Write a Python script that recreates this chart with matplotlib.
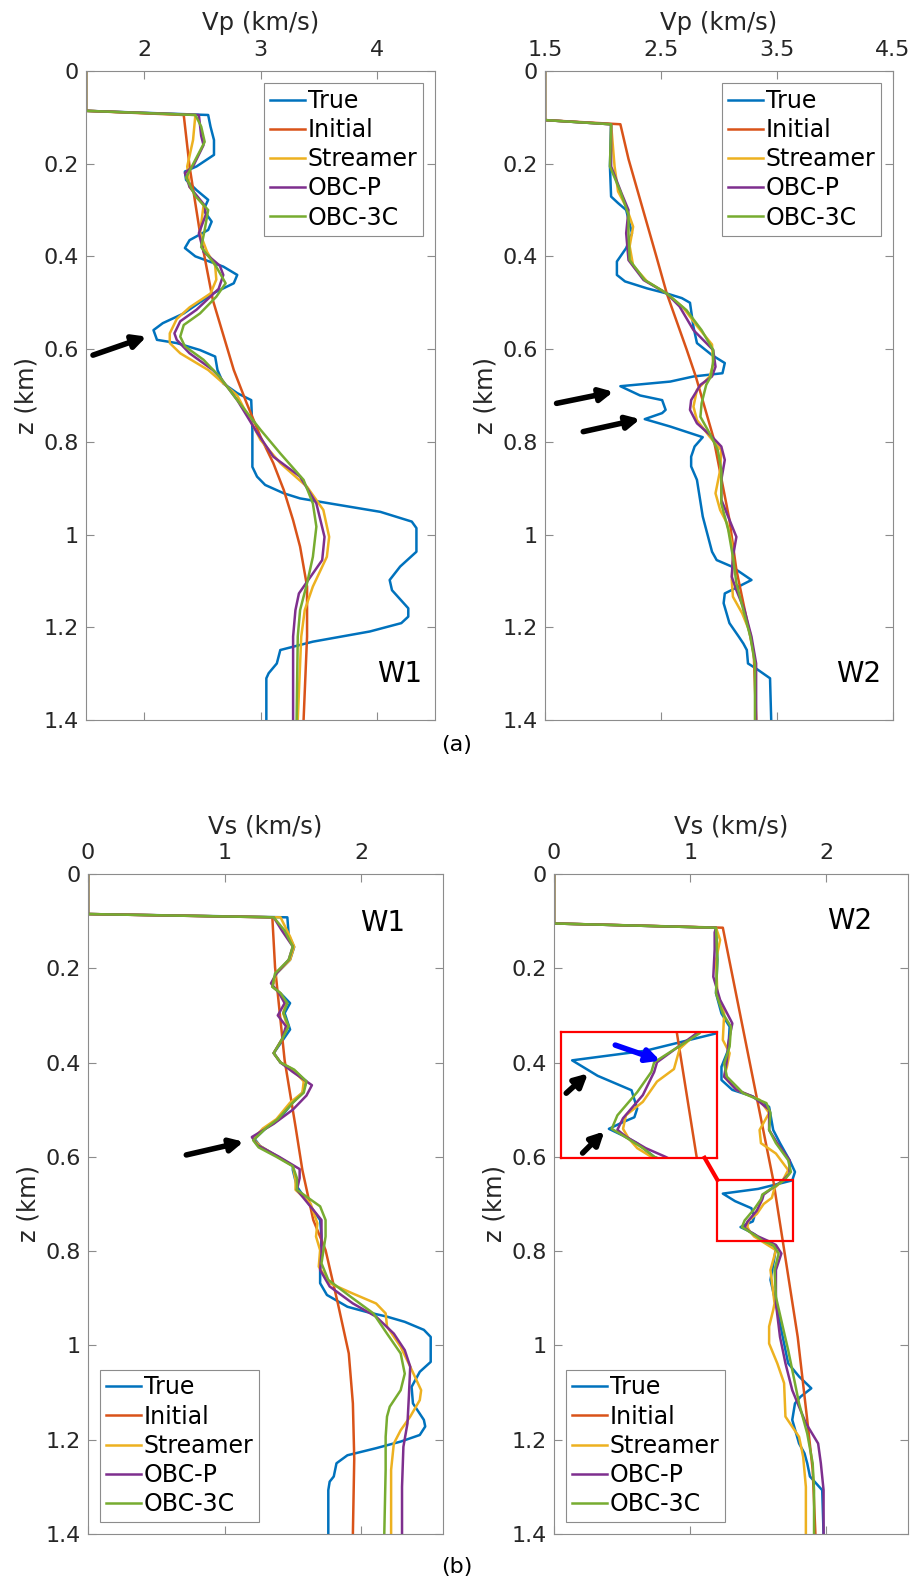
import numpy as np
import matplotlib
matplotlib.use('Agg')
import matplotlib.pyplot as plt
from matplotlib.patches import Rectangle
from matplotlib.ticker import FormatStrFormatter

labels = ['True', 'Initial', 'Streamer', 'OBC-P', 'OBC-3C']
colors = ['#0072BD', '#D95319', '#EDB120', '#7E2F8E', '#77AC30']

# ---------------- Vp, well W1 ----------------
vp1_true_z = [0, 0.086, 0.095, 0.12, 0.149, 0.181, 0.206, 0.217, 0.235, 0.257, 0.278, 0.30, 0.325, 0.343,
              0.365, 0.382, 0.40, 0.422, 0.44, 0.458, 0.48, 0.523, 0.544, 0.559, 0.58, 0.587, 0.602, 0.616,
              0.645, 0.674, 0.695, 0.71, 0.774, 0.854, 0.875, 0.893, 0.911, 0.922, 0.933, 0.951, 0.972,
              0.986, 1.037, 1.069, 1.098, 1.12, 1.159, 1.177, 1.191, 1.209, 1.231, 1.249, 1.278, 1.299,
              1.31, 1.4]
vp1_true_v = [1.5, 1.5, 2.55, 2.57, 2.60, 2.60, 2.45, 2.35, 2.36, 2.45, 2.55, 2.51, 2.58, 2.55,
              2.39, 2.35, 2.44, 2.68, 2.80, 2.77, 2.59, 2.34, 2.16, 2.08, 2.11, 2.28, 2.48, 2.61,
              2.63, 2.68, 2.80, 2.92, 2.93, 2.93, 2.97, 3.04, 3.20, 3.34, 3.60, 4.03, 4.30,
              4.34, 4.34, 4.20, 4.11, 4.13, 4.27, 4.27, 4.21, 3.94, 3.45, 3.17, 3.14, 3.07,
              3.05, 3.05]
vp1_init_z = [0, 0.086, 0.095, 0.206, 0.35, 0.494, 0.645, 0.716, 0.789, 0.846, 0.904, 0.969, 1.026,
              1.112, 1.22, 1.4]
vp1_init_v = [1.5, 1.5, 2.34, 2.39, 2.48, 2.59, 2.77, 2.88, 3.0, 3.11, 3.2, 3.28, 3.34,
              3.40, 3.40, 3.37]
vp1_str_z = [0, 0.086, 0.095, 0.149, 0.206, 0.25, 0.29, 0.35, 0.39, 0.42, 0.45, 0.48, 0.51, 0.535,
             0.566, 0.587, 0.609, 0.645, 0.70, 0.767, 0.796, 0.846, 0.897, 0.947, 1.005, 1.048, 1.112,
             1.163, 1.22, 1.4]
vp1_str_v = [1.5, 1.5, 2.44, 2.42, 2.37, 2.39, 2.51, 2.48, 2.54, 2.61, 2.62, 2.57, 2.39, 2.28,
             2.22, 2.22, 2.31, 2.55, 2.80, 2.94, 3.0, 3.17, 3.40, 3.54, 3.59, 3.57, 3.45,
             3.38, 3.35, 3.32]
vp1_obcp_z = [0, 0.086, 0.095, 0.14, 0.16, 0.206, 0.22, 0.25, 0.29, 0.31, 0.35, 0.39, 0.42, 0.44, 0.47,
              0.515, 0.54, 0.566, 0.58, 0.609, 0.645, 0.66, 0.71, 0.78, 0.832, 0.875, 0.933, 1.005,
              1.055, 1.091, 1.127, 1.163, 1.22, 1.4]
vp1_obcp_v = [1.5, 1.5, 2.47, 2.49, 2.51, 2.42, 2.35, 2.39, 2.52, 2.53, 2.47, 2.51, 2.65, 2.68, 2.64,
              2.45, 2.31, 2.26, 2.28, 2.39, 2.59, 2.65, 2.80, 2.97, 3.11, 3.34, 3.48, 3.55,
              3.53, 3.43, 3.33, 3.30, 3.28, 3.28]
vp1_obc3_z = [0, 0.086, 0.095, 0.12, 0.153, 0.206, 0.23, 0.27, 0.30, 0.343, 0.38, 0.418, 0.458, 0.487,
              0.523, 0.548, 0.573, 0.594, 0.623, 0.66, 0.71, 0.774, 0.825, 0.882, 0.933, 0.983, 1.048,
              1.105, 1.163, 1.22, 1.4]
vp1_obc3_v = [1.5, 1.5, 2.44, 2.49, 2.52, 2.41, 2.36, 2.44, 2.55, 2.52, 2.49, 2.61, 2.70, 2.62,
              2.48, 2.34, 2.31, 2.35, 2.51, 2.65, 2.80, 3.0, 3.17, 3.37, 3.45, 3.48, 3.45,
              3.40, 3.34, 3.32, 3.31]

# ---------------- Vp, well W2 ----------------
vp2_true_z = [0, 0.106, 0.115, 0.206, 0.271, 0.285, 0.30, 0.35, 0.382, 0.411, 0.44, 0.454, 0.469, 0.48,
              0.49, 0.50, 0.552, 0.587, 0.613, 0.63, 0.652, 0.659, 0.67, 0.68, 0.70, 0.71, 0.731, 0.738,
              0.751, 0.767, 0.79, 0.81, 0.832, 0.853, 0.882, 0.961, 1.037, 1.055, 1.069, 1.098, 1.112,
              1.127, 1.148, 1.191, 1.22, 1.235, 1.249, 1.278, 1.289, 1.31, 1.4]
vp2_true_v = [1.5, 1.5, 2.07, 2.06, 2.07, 2.13, 2.20, 2.25, 2.20, 2.12, 2.12, 2.19, 2.38, 2.55,
              2.68, 2.75, 2.78, 2.81, 2.94, 3.05, 3.03, 2.78, 2.58, 2.15, 2.32, 2.51, 2.54, 2.51,
              2.36, 2.58, 2.86, 2.79, 2.76, 2.76, 2.81, 2.86, 2.94, 2.98, 3.11, 3.28, 3.17,
              3.05, 3.04, 3.09, 3.17, 3.21, 3.24, 3.25, 3.32, 3.44, 3.45]
vp2_init_z = [0, 0.106, 0.115, 0.19, 0.40, 0.48, 0.60, 0.659, 0.789, 0.968, 1.076, 1.184, 1.256, 1.4]
vp2_init_v = [1.5, 1.5, 2.15, 2.22, 2.46, 2.55, 2.72, 2.80, 2.95, 3.09, 3.15, 3.24, 3.30, 3.32]
vp2_str_z = [0, 0.106, 0.115, 0.206, 0.26, 0.293, 0.336, 0.378, 0.42, 0.454, 0.48, 0.51, 0.55, 0.59,
             0.633, 0.659, 0.688, 0.724, 0.753, 0.789, 0.818, 0.861, 0.911, 0.947, 0.976, 1.019, 1.055,
             1.098, 1.134, 1.17, 1.213, 1.278, 1.4]
vp2_str_v = [1.5, 1.5, 2.07, 2.10, 2.13, 2.20, 2.26, 2.23, 2.26, 2.38, 2.55, 2.69, 2.81, 2.94,
             2.95, 2.92, 2.81, 2.78, 2.81, 2.92, 3.02, 3.01, 2.97, 3.01, 3.07, 3.11, 3.12,
             3.11, 3.12, 3.20, 3.27, 3.31, 3.32]
vp2_obcp_z = [0, 0.106, 0.115, 0.206, 0.264, 0.30, 0.35, 0.408, 0.451, 0.48, 0.508, 0.559, 0.602, 0.638,
              0.659, 0.677, 0.71, 0.731, 0.76, 0.789, 0.81, 0.839, 0.882, 0.925, 0.968, 1.005, 1.048,
              1.091, 1.12, 1.163, 1.22, 1.278, 1.4]
vp2_obcp_v = [1.5, 1.5, 2.07, 2.07, 2.16, 2.22, 2.20, 2.22, 2.35, 2.55, 2.66, 2.78, 2.95, 2.97,
              2.94, 2.84, 2.76, 2.75, 2.81, 2.94, 3.02, 3.05, 3.02, 3.02, 3.09, 3.15, 3.12,
              3.11, 3.15, 3.22, 3.28, 3.32, 3.32]
vp2_obc3_z = [0, 0.106, 0.115, 0.206, 0.26, 0.31, 0.35, 0.408, 0.451, 0.48, 0.516, 0.559, 0.602, 0.626,
              0.659, 0.677, 0.717, 0.746, 0.782, 0.818, 0.861, 0.933, 0.99, 1.048, 1.105, 1.163, 1.22,
              1.278, 1.4]
vp2_obc3_v = [1.5, 1.5, 2.07, 2.06, 2.15, 2.22, 2.22, 2.23, 2.36, 2.55, 2.72, 2.85, 2.95, 2.95,
              2.93, 2.89, 2.85, 2.84, 2.92, 2.99, 3.02, 3.02, 3.08, 3.12, 3.15, 3.21, 3.27,
              3.31, 3.31]

# ---------------- Vs, well W1 ----------------
vs1_true_z = [0, 0.085, 0.092, 0.13, 0.155, 0.182, 0.211, 0.239, 0.253, 0.274, 0.295, 0.33, 0.351, 0.38,
              0.40, 0.415, 0.44, 0.464, 0.485, 0.52, 0.54, 0.562, 0.577, 0.598, 0.619, 0.628, 0.663,
              0.734, 0.769, 0.833, 0.868, 0.893, 0.918, 0.929, 0.939, 0.95, 0.967, 0.982, 1.035, 1.056,
              1.088, 1.123, 1.158, 1.172, 1.19, 1.204, 1.218, 1.233, 1.25, 1.278, 1.289, 1.307, 1.4]
vs1_true_v = [0, 0, 1.46, 1.47, 1.51, 1.48, 1.38, 1.35, 1.41, 1.48, 1.44, 1.48, 1.43, 1.36,
              1.41, 1.50, 1.60, 1.57, 1.50, 1.40, 1.30, 1.22, 1.26, 1.38, 1.50, 1.50, 1.53,
              1.70, 1.71, 1.70, 1.70, 1.75, 1.90, 2.04, 2.19, 2.32, 2.46, 2.51, 2.51, 2.43,
              2.37, 2.38, 2.46, 2.47, 2.43, 2.29, 2.11, 1.90, 1.82, 1.80, 1.77, 1.76, 1.76]
vs1_init_z = [0, 0.085, 0.092, 0.198, 0.395, 0.536, 0.628, 0.734, 0.798, 0.911, 1.017, 1.123, 1.24, 1.4]
vs1_init_v = [0, 0, 1.35, 1.37, 1.44, 1.52, 1.57, 1.65, 1.74, 1.83, 1.91, 1.94, 1.95, 1.94]
vs1_str_z = [0, 0.085, 0.092, 0.133, 0.154, 0.182, 0.211, 0.239, 0.253, 0.274, 0.295, 0.323, 0.351, 0.38,
             0.40, 0.415, 0.44, 0.464, 0.485, 0.52, 0.54, 0.562, 0.577, 0.598, 0.619, 0.649, 0.67, 0.699,
             0.741, 0.769, 0.798, 0.833, 0.868, 0.89, 0.911, 0.932, 0.96, 1.003, 1.045, 1.095, 1.116,
             1.151, 1.18, 1.208, 1.264, 1.4]
vs1_str_v = [0, 0, 1.41, 1.48, 1.51, 1.48, 1.38, 1.35, 1.41, 1.45, 1.43, 1.46, 1.42, 1.36,
             1.41, 1.50, 1.58, 1.57, 1.48, 1.38, 1.28, 1.21, 1.26, 1.38, 1.50, 1.52, 1.52, 1.63,
             1.68, 1.67, 1.70, 1.69, 1.77, 1.94, 2.11, 2.18, 2.19, 2.29, 2.36, 2.44, 2.43,
             2.36, 2.29, 2.24, 2.22, 2.22]
vs1_obcp_z = [0, 0.085, 0.092, 0.12, 0.154, 0.182, 0.211, 0.232, 0.253, 0.274, 0.295, 0.30, 0.323, 0.351,
              0.38, 0.40, 0.42, 0.448, 0.47, 0.50, 0.53, 0.558, 0.575, 0.60, 0.626, 0.645, 0.67, 0.734,
              0.805, 0.84, 0.875, 0.911, 0.939, 0.975, 1.01, 1.045, 1.109, 1.165, 1.215, 1.3, 1.4]
vs1_obcp_v = [0, 0, 1.36, 1.42, 1.50, 1.47, 1.38, 1.34, 1.40, 1.44, 1.40, 1.39, 1.45, 1.42,
              1.36, 1.41, 1.50, 1.64, 1.60, 1.50, 1.36, 1.20, 1.24, 1.40, 1.55, 1.55, 1.53, 1.71,
              1.71, 1.70, 1.77, 1.94, 2.11, 2.24, 2.32, 2.36, 2.35, 2.34, 2.31, 2.30, 2.30]
vs1_obc3_z = [0, 0.085, 0.092, 0.12, 0.154, 0.182, 0.211, 0.239, 0.253, 0.274, 0.295, 0.323, 0.351, 0.38,
              0.40, 0.415, 0.44, 0.464, 0.485, 0.52, 0.54, 0.565, 0.58, 0.60, 0.62, 0.645, 0.67, 0.705,
              0.734, 0.769, 0.826, 0.861, 0.896, 0.932, 0.975, 1.017, 1.06, 1.095, 1.13, 1.151, 1.194,
              1.264, 1.4]
vs1_obc3_v = [0, 0, 1.36, 1.44, 1.50, 1.47, 1.37, 1.35, 1.41, 1.46, 1.43, 1.47, 1.42, 1.36,
              1.41, 1.51, 1.60, 1.58, 1.50, 1.39, 1.30, 1.21, 1.25, 1.38, 1.50, 1.53, 1.53, 1.70,
              1.74, 1.74, 1.71, 1.76, 1.92, 2.09, 2.19, 2.29, 2.32, 2.29, 2.21, 2.19, 2.18,
              2.18, 2.17]

# ---------------- Vs, well W2 ----------------
vs2_true_z = [0, 0.105, 0.114, 0.182, 0.253, 0.296, 0.324, 0.373, 0.409, 0.437, 0.458, 0.472, 0.494,
              0.543, 0.571, 0.607, 0.632, 0.65, 0.668, 0.678, 0.694, 0.709, 0.728, 0.737, 0.742, 0.749,
              0.756, 0.764, 0.778, 0.791, 0.812, 0.861, 0.911, 0.982, 1.038, 1.066, 1.091, 1.109, 1.123,
              1.158, 1.208, 1.229, 1.25, 1.278, 1.307, 1.4]
vs2_true_v = [0, 0, 1.19, 1.20, 1.19, 1.23, 1.29, 1.28, 1.23, 1.23, 1.31, 1.46, 1.58,
              1.61, 1.66, 1.73, 1.77, 1.75, 1.50, 1.24, 1.33, 1.45, 1.47, 1.46, 1.42, 1.37,
              1.42, 1.47, 1.53, 1.63, 1.62, 1.59, 1.63, 1.68, 1.72, 1.80, 1.89, 1.81, 1.77,
              1.75, 1.80, 1.84, 1.86, 1.88, 1.97, 1.98]
vs2_init_z = [0, 0.105, 0.114, 0.649, 0.778, 0.982, 1.158, 1.264, 1.4]
vs2_init_v = [0, 0, 1.24, 1.61, 1.68, 1.79, 1.86, 1.90, 1.92]
vs2_str_z = [0, 0.105, 0.114, 0.14, 0.182, 0.253, 0.296, 0.352, 0.38, 0.409, 0.43, 0.458, 0.479, 0.507,
             0.543, 0.571, 0.593, 0.628, 0.65, 0.666, 0.687, 0.70, 0.721, 0.735, 0.749, 0.759, 0.769,
             0.778, 0.798, 0.84, 0.911, 0.925, 0.96, 0.996, 1.038, 1.08, 1.151, 1.194, 1.236, 1.30, 1.4]
vs2_str_v = [0, 0, 1.19, 1.22, 1.19, 1.20, 1.25, 1.24, 1.29, 1.27, 1.25, 1.34, 1.51, 1.58,
             1.51, 1.52, 1.63, 1.72, 1.68, 1.62, 1.60, 1.54, 1.49, 1.43, 1.42, 1.44, 1.47,
             1.52, 1.63, 1.59, 1.62, 1.61, 1.58, 1.58, 1.64, 1.69, 1.70, 1.80, 1.83, 1.85, 1.85]
vs2_obcp_z = [0, 0.105, 0.114, 0.124, 0.16, 0.218, 0.267, 0.317, 0.359, 0.395, 0.43, 0.458, 0.472, 0.50,
              0.543, 0.571, 0.607, 0.635, 0.65, 0.68, 0.69, 0.714, 0.738, 0.75, 0.757, 0.769, 0.778,
              0.787, 0.805, 0.84, 0.911, 0.982, 1.038, 1.095, 1.165, 1.208, 1.25, 1.307, 1.4]
vs2_obcp_v = [0, 0, 1.19, 1.18, 1.18, 1.17, 1.22, 1.31, 1.28, 1.27, 1.25, 1.34, 1.46, 1.58,
              1.58, 1.64, 1.73, 1.73, 1.68, 1.54, 1.53, 1.49, 1.42, 1.40, 1.43, 1.50, 1.57,
              1.63, 1.67, 1.63, 1.63, 1.66, 1.70, 1.75, 1.85, 1.94, 1.96, 1.98, 1.98]
vs2_obc3_z = [0, 0.105, 0.114, 0.182, 0.253, 0.296, 0.324, 0.366, 0.402, 0.43, 0.465, 0.486, 0.507,
              0.543, 0.571, 0.607, 0.632, 0.65, 0.68, 0.69, 0.711, 0.735, 0.749, 0.756, 0.769, 0.778,
              0.787, 0.805, 0.84, 0.897, 0.96, 1.01, 1.052, 1.123, 1.187, 1.25, 1.307, 1.4]
vs2_obc3_v = [0, 0, 1.19, 1.20, 1.19, 1.24, 1.30, 1.29, 1.25, 1.27, 1.39, 1.56, 1.59,
              1.58, 1.63, 1.72, 1.74, 1.69, 1.53, 1.52, 1.47, 1.40, 1.38, 1.42, 1.49, 1.53,
              1.61, 1.65, 1.62, 1.63, 1.68, 1.72, 1.75, 1.80, 1.86, 1.90, 1.91, 1.91]

# zoom window of the W2 Vs panel (data coords) and arrows (tail, head)
zoom_x = (1.20, 1.753)
zoom_z = (0.649, 0.779)
arrows_vp1 = [((1.56, 0.613), (2.02, 0.573))]
arrows_vp2 = [((1.60, 0.717), (2.09, 0.692)), ((1.83, 0.778), (2.32, 0.751))]
arrows_vs1 = [((0.72, 0.596), (1.14, 0.568))]
arrows_vs2 = [((0.09, 0.465), (0.25, 0.423)), ((0.21, 0.592), (0.37, 0.546))]
arrows_vs2_blue = [((0.45, 0.363), (0.78, 0.396))]

panels = [
    dict(curves=[(vp1_true_v, vp1_true_z), (vp1_init_v, vp1_init_z), (vp1_str_v, vp1_str_z),
                 (vp1_obcp_v, vp1_obcp_z), (vp1_obc3_v, vp1_obc3_z)],
         xlim=(1.5, 4.5), xticks=[2, 3, 4], xlabel='Vp (km/s)', well='W1', well_xy=(4.2, 1.30),
         pos=[0.0942, 0.5463, 0.3823, 0.4090], legend='upper', arrows=arrows_vp1),
    dict(curves=[(vp2_true_v, vp2_true_z), (vp2_init_v, vp2_init_z), (vp2_str_v, vp2_str_z),
                 (vp2_obcp_v, vp2_obcp_z), (vp2_obc3_v, vp2_obc3_z)],
         xlim=(1.5, 4.5), xticks=[1.5, 2.5, 3.5, 4.5], xlabel='Vp (km/s)', well='W2', well_xy=(4.2, 1.30),
         pos=[0.5969, 0.5463, 0.3812, 0.4090], legend='upper', arrows=arrows_vp2),
    dict(curves=[(vs1_true_v, vs1_true_z), (vs1_init_v, vs1_init_z), (vs1_str_v, vs1_str_z),
                 (vs1_obcp_v, vs1_obcp_z), (vs1_obc3_v, vs1_obc3_z)],
         xlim=(0, 2.6), xticks=[0, 1, 2], xlabel='Vs (km/s)', well='W1', well_xy=(2.16, 0.104),
         pos=[0.0964, 0.0334, 0.3888, 0.4159], legend='lower', arrows=arrows_vs1),
    dict(curves=[(vs2_true_v, vs2_true_z), (vs2_init_v, vs2_init_z), (vs2_str_v, vs2_str_z),
                 (vs2_obcp_v, vs2_obcp_z), (vs2_obc3_v, vs2_obc3_z)],
         xlim=(0, 2.6), xticks=[0, 1, 2], xlabel='Vs (km/s)', well='W2', well_xy=(2.17, 0.10),
         pos=[0.6068, 0.0334, 0.3877, 0.4159], legend='lower', arrows=arrows_vs2),
]

plt.rcParams['font.family'] = 'DejaVu Sans'
txt = '#262626'
gray = '#8c8c8c'
lw = 1.8

fig = plt.figure(figsize=(9.13, 15.87), dpi=100)


def arrow(ax, tail, head, color='k'):
    ax.annotate('', xy=head, xytext=tail, zorder=10,
                arrowprops=dict(arrowstyle='-|>,head_width=0.28,head_length=0.55', color=color,
                                lw=4, mutation_scale=14, shrinkA=0, shrinkB=0))


axes = []
for p in panels:
    ax = fig.add_axes(p['pos'])
    for (v, z), c, lab in zip(p['curves'], colors, labels):
        ax.plot(v, z, color=c, lw=lw, label=lab)
    ax.set_xlim(*p['xlim'])
    ax.set_ylim(1.4, 0)
    ax.set_xticks(p['xticks'])
    ax.set_yticks(np.arange(0, 1.41, 0.2))
    ax.xaxis.set_major_formatter(FormatStrFormatter('%g'))
    ax.yaxis.set_major_formatter(FormatStrFormatter('%g'))
    ax.xaxis.set_label_position('top')
    ax.set_xlabel(p['xlabel'], fontsize=17.5, color=txt, labelpad=7)
    ax.set_ylabel('z (km)', fontsize=17.5, color=txt, labelpad=4)
    ax.tick_params(direction='in', length=5.5, width=0.8, colors=gray, labelcolor=txt, labelsize=16,
                   top=True, bottom=True, left=True, right=True, labeltop=True, labelbottom=False)
    ax.tick_params(axis='x', pad=8)
    ax.tick_params(axis='y', pad=5)
    for s in ax.spines.values():
        s.set_color(gray)
        s.set_linewidth(0.8)
    ax.text(p['well_xy'][0], p['well_xy'][1], p['well'], fontsize=20, color='k', ha='center', va='center')
    if p['legend'] == 'upper':
        kw = dict(loc='upper right', bbox_to_anchor=(0.966, 0.9815))
    else:
        kw = dict(loc='lower left', bbox_to_anchor=(0.034, 0.018))
    leg = ax.legend(fontsize=17, fancybox=False, framealpha=1, edgecolor=gray, handlelength=1.5,
                    handletextpad=0.1, borderpad=0.25, labelspacing=0.22, borderaxespad=0, **kw)
    leg.get_frame().set_linewidth(0.8)
    for a in p['arrows']:
        arrow(ax, a[0], a[1])
    axes.append(ax)

# inset zoom of W2 Vs
ax = axes[3]
axins = ax.inset_axes([0.0192, 0.57, 0.442, 0.19])
axins.set_facecolor('white')
for (v, z), c in zip(panels[3]['curves'], colors):
    axins.plot(v, z, color=c, lw=lw)
axins.set_xlim(*zoom_x)
axins.set_ylim(zoom_z[1], zoom_z[0])
axins.set_xticks([])
axins.set_yticks([])
for s in axins.spines.values():
    s.set_color('red')
    s.set_linewidth(1.6)
ax.add_patch(Rectangle((zoom_x[0], zoom_z[0]), zoom_x[1] - zoom_x[0], zoom_z[1] - zoom_z[0],
                       fill=False, ec='red', lw=1.6, zorder=6))
ax.plot([1.106, zoom_x[0]], [0.602, zoom_z[0]], color='red', lw=3, zorder=6)
for a in arrows_vs2_blue:
    arrow(ax, a[0], a[1], color='#0000ff')

fig.text(0.5, 1 - 745 / 1587, '(a)', fontsize=16, color='k', ha='center', va='center')
fig.text(0.5, 1 - 1567 / 1587, '(b)', fontsize=16, color='k', ha='center', va='center')

fig.savefig('out.png', dpi=100)
